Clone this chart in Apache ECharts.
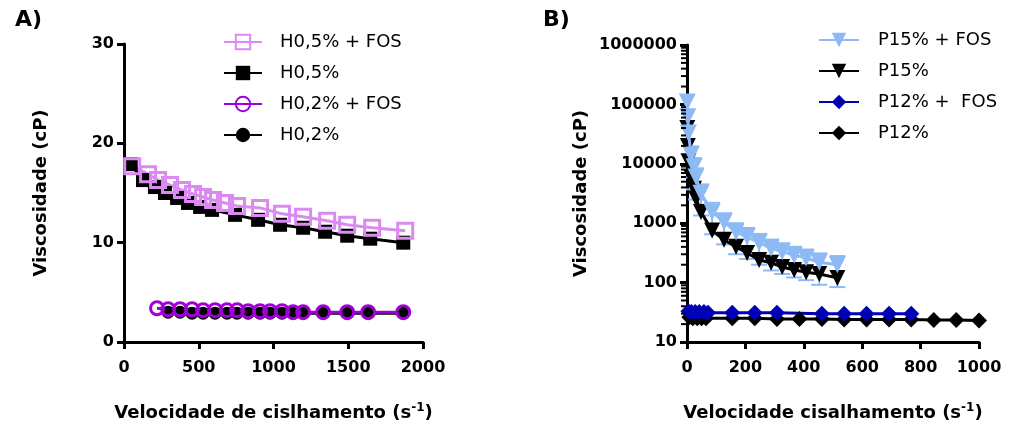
<!DOCTYPE html>
<html>
<head>
<meta charset="utf-8">
<script src="https://cdn.jsdelivr.net/npm/echarts@6/dist/echarts.min.js"></script>
<style>
  html, body { margin: 0; padding: 0; background: #fff; }
  #chart { width: 1024px; height: 432px; }
</style>
</head>
<body>
<div id="chart"></div>
<script>
// panel A - shear rate (s-1) and viscosity (cP)
var h05fosX = [55, 161, 228, 308, 388, 462, 529, 596, 676, 756, 910, 1057, 1198, 1359, 1493, 1660, 1881];
var h05fosY = [17.7, 16.9, 16.3, 15.8, 15.3, 14.9, 14.6, 14.3, 14.0, 13.7, 13.5, 12.9, 12.6, 12.2, 11.8, 11.5, 11.2];
var h05X = [45, 127, 207, 274, 355, 428, 509, 589, 743, 897, 1044, 1198, 1345, 1493, 1647, 1868];
var h05Y = [17.9, 16.3, 15.6, 15.0, 14.5, 14.0, 13.6, 13.3, 12.8, 12.3, 11.8, 11.5, 11.1, 10.7, 10.4, 10.0];
var h02fosX = [221, 295, 375, 455, 529, 609, 689, 756, 830, 910, 977, 1057, 1131, 1198, 1332, 1493, 1633, 1868];
var h02fosY = [3.4, 3.3, 3.3, 3.3, 3.2, 3.2, 3.2, 3.2, 3.1, 3.1, 3.1, 3.1, 3.0, 3.0, 3.0, 3.0, 3.0, 3.0];
var h02X = [295, 375, 455, 529, 609, 689, 756, 830, 910, 977, 1057, 1131, 1198, 1332, 1493, 1633, 1868];
var h02Y = [3.0, 3.0, 2.9, 2.9, 2.9, 2.9, 2.9, 2.9, 2.9, 2.9, 2.9, 2.9, 2.9, 2.9, 2.9, 2.9, 2.9];

// panel B
var p15X = [1, 3, 5, 14, 24, 31, 48, 86, 127, 168, 206, 247, 288, 326, 367, 408, 453, 515];
var p15fosY = [110000, 62000, 33000, 14000, 8900, 6000, 3200, 1550, 1050, 710, 590, 470, 380, 330, 290, 260, 220, 200];
var p15fosHi = [null, null, null, 19600, 12500, 8400, 4500, 2200, 1470, 1000, 830, 660, 530, 460, 400, 360, 310, 280];
var p15fosLo = [null, null, null, 5900, 3700, 2500, 1350, 650, 440, 300, 250, 200, 160, 140, 122, 110, 92, 84];
var p15Y = [40000, 20000, 11000, 6000, 3800, 2600, 1550, 750, 525, 400, 315, 240, 215, 183, 163, 150, 140, 120];
var p12fosX = [5, 15, 28, 42, 58, 72, 155, 232, 308, 462, 538, 615, 692, 768];
var p12fosY = [33, 32, 32, 32, 32, 31, 31, 31, 31, 30, 30, 30, 30, 30];
var p12X = [8, 20, 35, 50, 65, 155, 232, 308, 385, 462, 538, 615, 692, 768, 845, 922, 1000];
var p12Y = [26, 25, 25, 25, 25, 25, 25, 24.5, 24.5, 24.5, 24, 24, 24, 24, 23.5, 23.5, 23];

var xTicksA = [0, 2000, 500];
var yTicksA = [0, 30, 10];
var xTicksB = [0, 1000, 200];
var yTicksB = [10, 1000000];
var minorTicksB = [20, 30, 40, 50, 60, 70, 80, 90,
    200, 300, 400, 500, 600, 700, 800, 900,
    2000, 3000, 4000, 5000, 6000, 7000, 8000, 9000,
    20000, 30000, 40000, 50000, 60000, 70000, 80000, 90000,
    200000, 300000, 400000, 500000, 600000, 700000, 800000, 900000];

function pairs(xs, ys) {
    return xs.map(function(x, i) { return [x, ys[i]]; });
}

var FONT = 'DejaVu Sans';
var violetLight = '#dc8af2';
var violetDark = '#a000d6';
var blueLight = '#8dbaf5';
var blueDark = '#0000b4';

function axisBase() {
    return {
        axisLine: { show: true, onZero: false, lineStyle: { color: '#000', width: 3 } },
        axisTick: { show: true, length: 7, lineStyle: { color: '#000', width: 3 } },
        axisLabel: { color: '#000', fontFamily: FONT, fontWeight: 'bold', fontSize: 16,
            formatter: function(v) { return String(Math.round(v)); } },
        splitLine: { show: false },
        nameTextStyle: {
            color: '#000', fontFamily: FONT, fontWeight: 'bold', fontSize: 18,
            rich: { sup: { fontFamily: FONT, fontWeight: 'bold', fontSize: 12, padding: [0, 0, 10, 0] } }
        }
    };
}

function xAxis(grid, lim, name) {
    var a = axisBase();
    a.type = 'value';
    a.gridIndex = grid;
    a.min = lim[0]; a.max = lim[1]; a.interval = lim[2];
    a.name = name;
    a.nameLocation = 'middle';
    a.nameGap = 60;
    a.axisLabel.margin = 18;
    return a;
}

var chart = echarts.init(document.getElementById('chart'));

var yA = axisBase();
yA.type = 'value'; yA.gridIndex = 0;
yA.min = yTicksA[0]; yA.max = yTicksA[1]; yA.interval = yTicksA[2];
yA.name = 'Viscosidade (cP)'; yA.nameLocation = 'middle'; yA.nameGap = 74;
yA.axisLabel.margin = 10;

var yB = axisBase();
yB.type = 'log'; yB.logBase = 10; yB.gridIndex = 1;
yB.min = yTicksB[0]; yB.max = yTicksB[1];
yB.name = 'Viscosidade (cP)'; yB.nameLocation = 'middle'; yB.nameGap = 97;
yB.axisLabel.margin = 10;

function lineSeries(name, xi, data, color, symbol, size, open, extra) {
    var s = {
        name: name, type: 'line', xAxisIndex: xi, yAxisIndex: xi,
        data: data, symbol: symbol, symbolSize: size, showSymbol: true,
        lineStyle: { color: color, width: 3 },
        itemStyle: open
            ? { color: 'rgba(255,255,255,0)', borderColor: color, borderWidth: 3 }
            : { color: color, borderColor: color, borderWidth: 0 },
        emphasis: { disabled: true },
        animation: false
    };
    for (var k in extra) s[k] = extra[k];
    return s;
}

var errData = [];
p15X.forEach(function(x, i) {
    if (p15fosHi[i] != null) errData.push([x, p15fosLo[i], p15fosHi[i]]);
});

var option = {
    animation: false,
    title: [
        { text: 'A)', left: 10, top: 4, textStyle: { fontFamily: FONT, fontWeight: 'bold', fontSize: 22, color: '#000' } },
        { text: 'B)', left: 538, top: 4, textStyle: { fontFamily: FONT, fontWeight: 'bold', fontSize: 22, color: '#000' } }
    ],
    grid: [
        { left: 124, top: 44, width: 299, height: 298 },
        { left: 687, top: 45, width: 292, height: 297 }
    ],
    legend: [
        {
            data: ['H0,5% + FOS', 'H0,5%', 'H0,2% + FOS', 'H0,2%'],
            orient: 'vertical', left: 218, top: 28, itemWidth: 38, itemHeight: 18, itemGap: 13,
            textStyle: { fontFamily: FONT, fontSize: 18, color: '#000', padding: [0, 0, 0, 13] }
        },
        {
            data: ['P15% + FOS', 'P15%', 'P12% +  FOS', 'P12%'],
            orient: 'vertical', left: 813, top: 26, itemWidth: 40, itemHeight: 18, itemGap: 13,
            textStyle: { fontFamily: FONT, fontSize: 18, color: '#000', padding: [0, 0, 0, 14] }
        }
    ],
    xAxis: [
        xAxis(0, xTicksA, 'Velocidade de cislhamento (s{sup|-1})'),
        xAxis(1, xTicksB, 'Velocidade cisalhamento (s{sup|-1})')
    ],
    yAxis: [yA, yB],
    series: [
        lineSeries('H0,5%', 0, pairs(h05X, h05Y), '#000', 'rect', 14, false),
        lineSeries('H0,5% + FOS', 0, pairs(h05fosX, h05fosY), violetLight, 'rect', 15, true),
        lineSeries('H0,2%', 0, pairs(h02X, h02Y), '#000', 'circle', 13, false),
        lineSeries('H0,2% + FOS', 0, pairs(h02fosX, h02fosY), violetDark, 'circle', 13, true),

        {
            // minor ticks of the log axis
            type: 'custom', xAxisIndex: 1, yAxisIndex: 1, z: 5, silent: true, clip: false,
            data: minorTicksB.map(function(v) { return [0, v]; }),
            renderItem: function(params, api) {
                var p = api.coord([0, api.value(1)]);
                return { type: 'line', shape: { x1: p[0] - 1, y1: p[1], x2: p[0] - 6, y2: p[1] },
                    style: { stroke: '#000', lineWidth: 2 } };
            }
        },
        lineSeries('P15%', 1, pairs(p15X, p15Y), '#000', 'triangle', 16, false, { symbolRotate: 180 }),
        {
            type: 'custom', xAxisIndex: 1, yAxisIndex: 1, data: errData, z: 3,
            silent: true, animation: false, clip: false,
            renderItem: function(params, api) {
                var lo = api.coord([api.value(0), api.value(1)]);
                var hi = api.coord([api.value(0), api.value(2)]);
                return {
                    type: 'group',
                    children: [
                        { type: 'line', shape: { x1: lo[0], y1: lo[1], x2: hi[0], y2: hi[1] }, style: { stroke: blueLight, lineWidth: 2 } },
                        { type: 'line', shape: { x1: lo[0] - 8, y1: lo[1], x2: lo[0] + 8, y2: lo[1] }, style: { stroke: blueLight, lineWidth: 2 } },
                        { type: 'line', shape: { x1: hi[0] - 8, y1: hi[1], x2: hi[0] + 8, y2: hi[1] }, style: { stroke: blueLight, lineWidth: 2 } }
                    ]
                };
            }
        },
        lineSeries('P15% + FOS', 1, pairs(p15X, p15fosY), blueLight, 'triangle', 17, false, { symbolRotate: 180, z: 4 }),
        lineSeries('P12%', 1, pairs(p12X, p12Y), '#000', 'diamond', [16, 16], false),
        lineSeries('P12% +  FOS', 1, pairs(p12fosX, p12fosY), blueDark, 'diamond', [16, 16], false)
    ]
};

chart.setOption(option);
</script>
</body>
</html>
